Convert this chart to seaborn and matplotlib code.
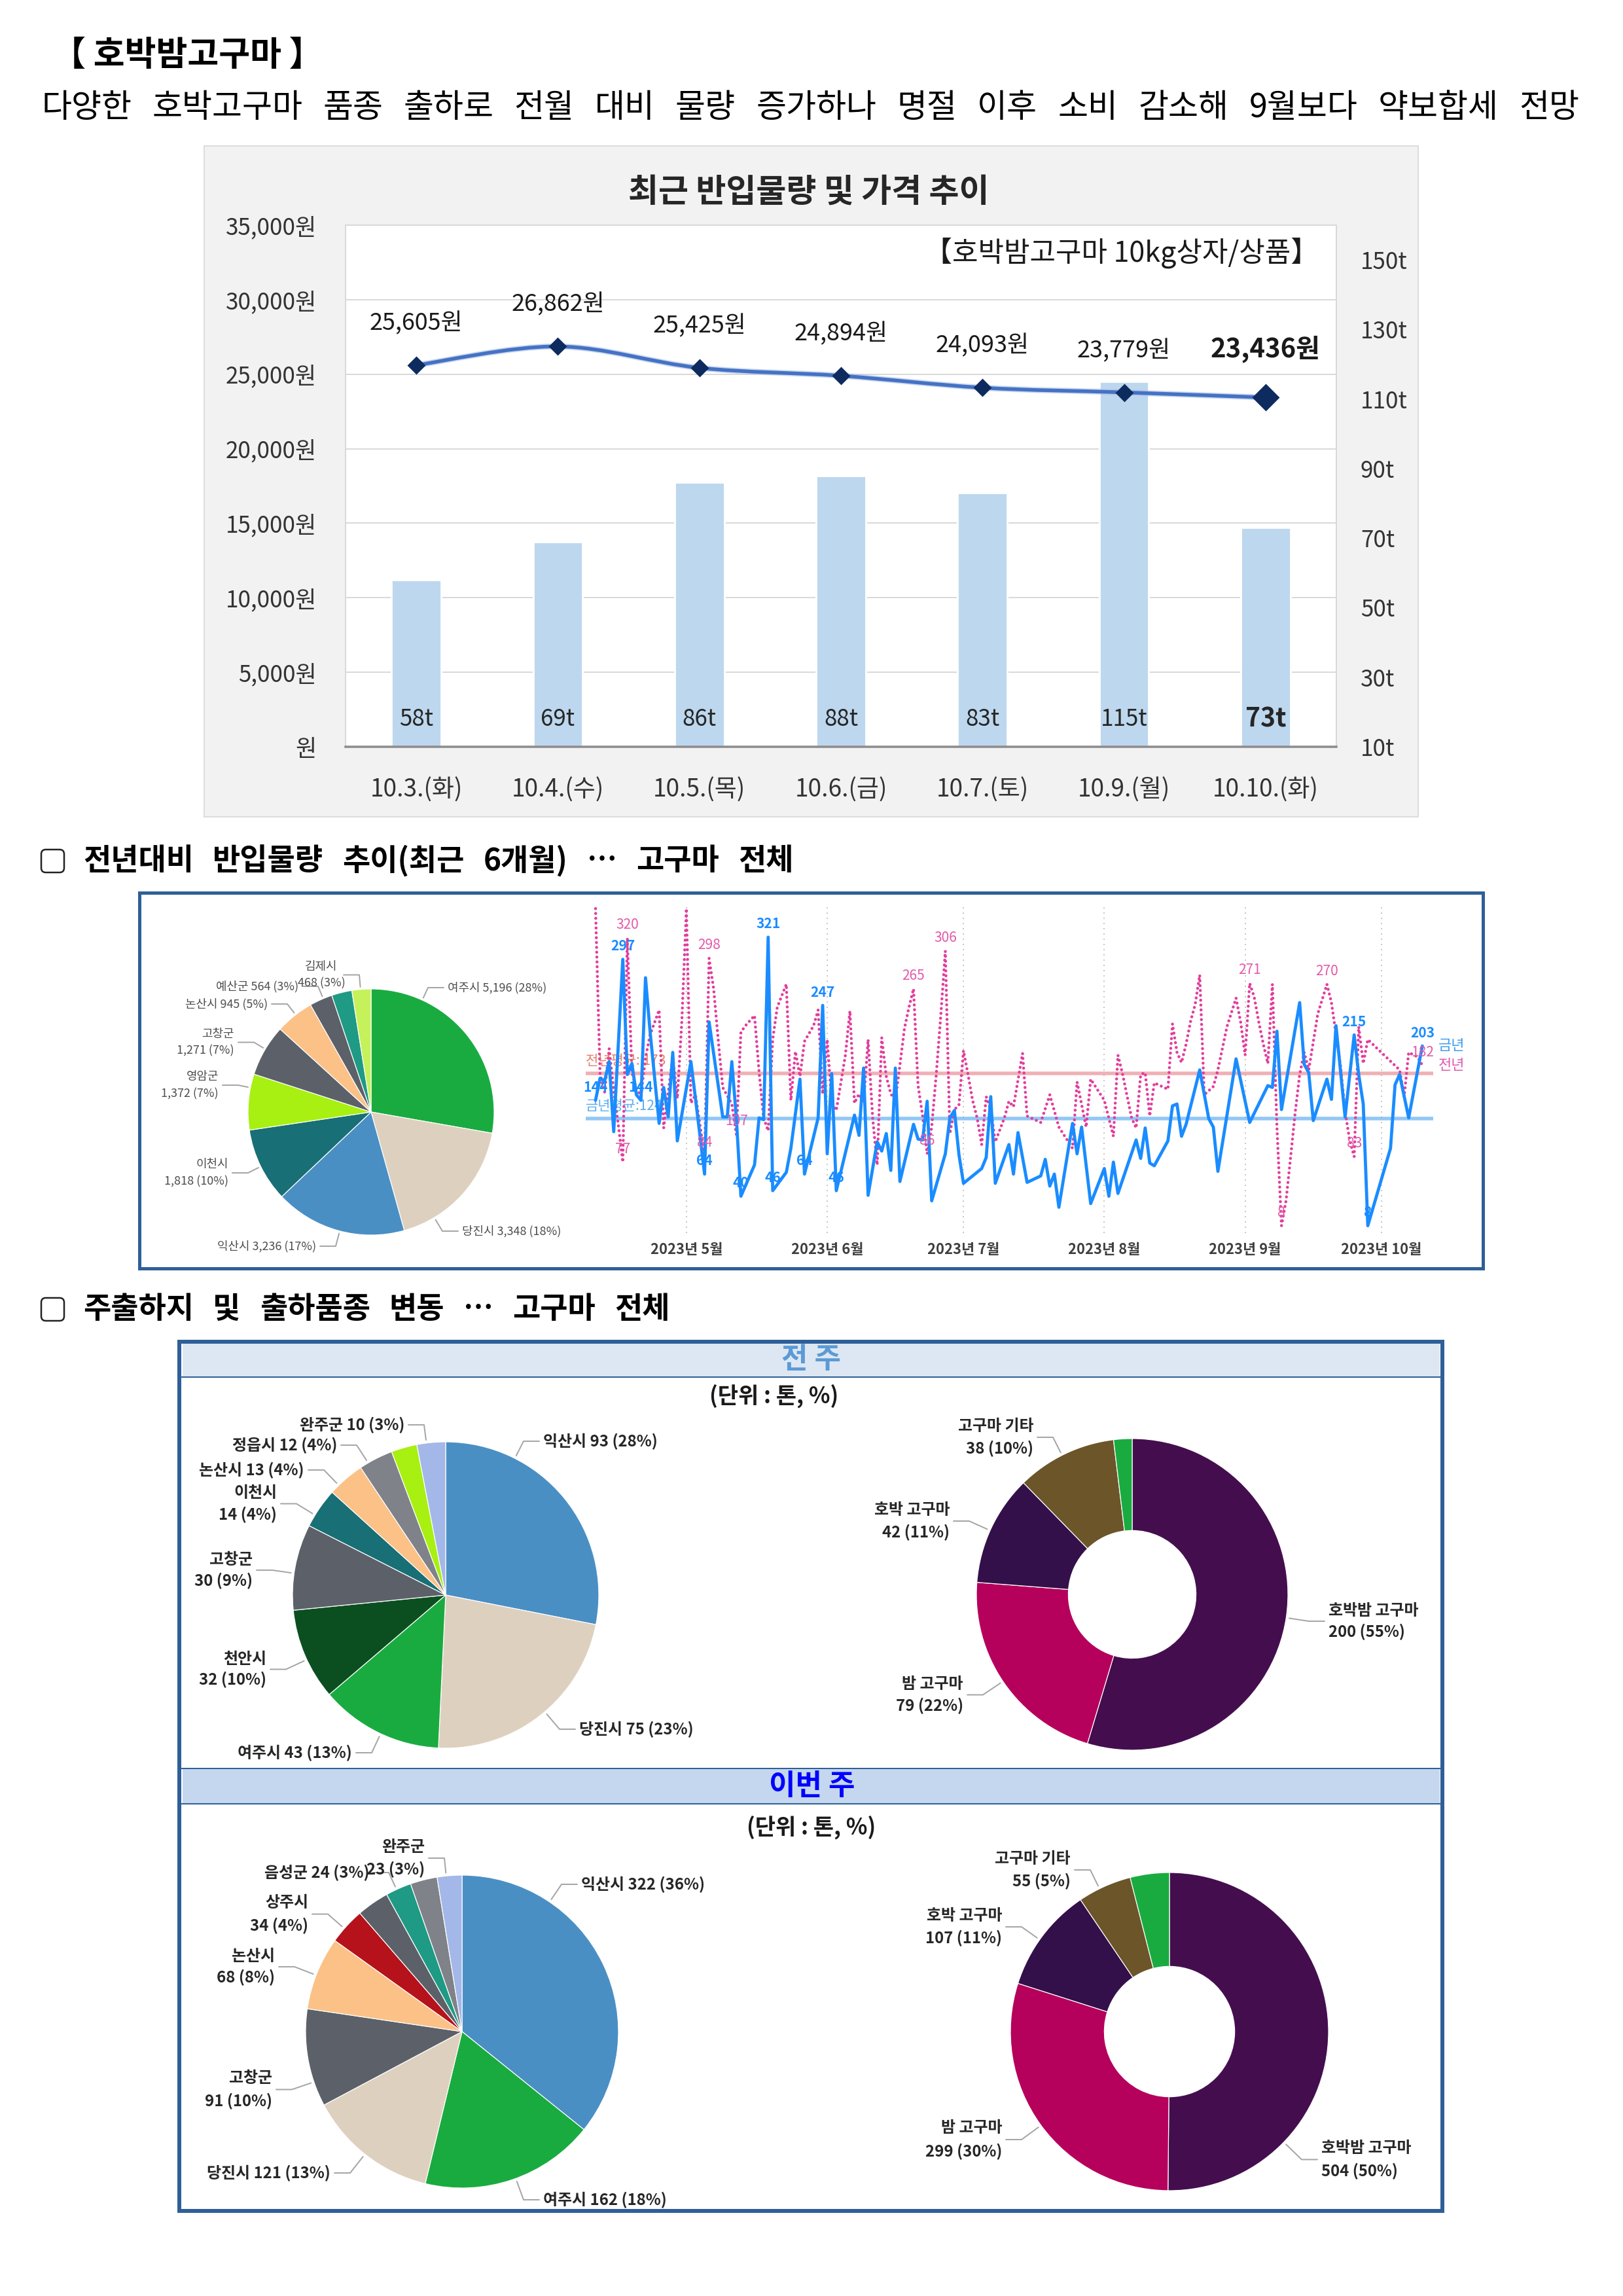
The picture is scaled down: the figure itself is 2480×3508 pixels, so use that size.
import numpy as np
import pandas as pd
import matplotlib
matplotlib.use('Agg')
import matplotlib.pyplot as plt
import matplotlib.dates as mdates
from matplotlib.path import Path
from matplotlib.patches import PathPatch, Rectangle, FancyBboxPatch
from matplotlib.lines import Line2D
from matplotlib.transforms import IdentityTransform
from matplotlib.ticker import FuncFormatter
import seaborn as sns

# ======================= DATA =======================
page_title = '【 호박밤고구마 】'
page_subtitle = '다양한 호박고구마 품종 출하로 전월 대비 물량 증가하나 명절 이후 소비 감소해 9월보다 약보합세 전망'

# chart 1 : recent arrivals & price
c1_title = '최근 반입물량 및 가격 추이'
c1_note = '【호박밤고구마 10kg상자/상품】'
c1_dates = ['10.3.(화)', '10.4.(수)', '10.5.(목)', '10.6.(금)', '10.7.(토)', '10.9.(월)', '10.10.(화)']
c1_volume_t = [58, 69, 86, 88, 83, 115, 73]
c1_price_won = [25605, 26862, 25425, 24894, 24093, 23779, 23436]
c1_price_ticks = [0, 5000, 10000, 15000, 20000, 25000, 30000, 35000]
c1_volume_ticks = [10, 30, 50, 70, 90, 110, 130, 150]

# section 2
s2_header = '전년대비 반입물량 추이(최근 6개월) … 고구마 전체'
p6_names = ['여주시', '당진시', '익산시', '이천시', '영암군', '고창군', '논산시', '예산군', '', '김제시']
p6_values = [5196, 3348, 3236, 1818, 1372, 1271, 945, 564, 500, 468]
p6_pct = [28, 18, 17, 10, 7, 7, 5, 3, 3, 3]

ts_start = '2023-04-11'
this_day = [0, 1, 2, 3, 4, 6, 7, 8, 9, 10, 11, 12, 14, 15, 16, 17, 18, 21, 22, 24, 25, 28, 29, 30, 31, 32,
            35, 36, 37, 38, 39, 42, 43, 45, 46, 49, 50, 51, 52, 53, 57, 58, 59, 60, 62, 63, 64, 65,
            66, 67, 70, 71, 72, 73, 74, 77, 78, 79, 80, 81, 85, 86, 87, 88, 91, 92, 93, 95, 98, 99, 100,
            101, 102, 105, 106, 107, 109, 112, 113, 114, 115, 119, 120, 121, 122, 123, 126, 127, 128, 129,
            130, 133, 135, 136, 137, 141, 144, 148, 149, 150, 151, 155, 156, 157, 158, 161, 162, 163, 165,
            167, 168, 169, 170, 175, 176, 177, 179, 182]
this_t = [144, 168, 165, 186, 110, 297, 172, 184, 150, 144, 277, 219, 119, 158, 126, 196, 100, 186, 146, 64, 229,
          126, 126, 186, 125, 40, 74, 125, 123, 321, 46, 66, 92, 167, 64, 125, 247, 86, 173, 46, 128, 106, 179,
          41, 99, 89, 108, 68,
          179, 56, 118, 102, 101, 143, 35, 86, 125, 133, 85, 54, 70, 82, 148, 54, 96, 64, 109, 55, 62, 80, 51,
          64, 28, 119, 86, 115, 32, 70, 40, 77, 43, 101, 81, 114, 76, 73, 100, 138, 140, 105,
          118, 177, 124, 115, 67, 189, 120, 160, 158, 219, 134, 250, 183, 174, 122, 167, 145, 225, 126,
          215, 172, 140, 8, 92, 161, 172, 125, 203]
last_day = [0, 1, 2, 3, 4, 5, 6, 7, 8, 9, 10, 11, 12, 14, 15, 17, 18, 19, 20, 21, 22, 24, 25, 26, 27, 28, 30,
            31, 32, 33, 35, 36, 37, 38, 39, 40, 42, 43, 44, 45, 46, 48, 49, 50, 51, 52, 53, 55, 56, 57, 58,
            59, 60, 61, 62, 63, 64, 65, 66, 67, 68, 69, 70, 71, 72, 73, 74, 75, 76, 77, 78, 79, 80, 81, 82,
            83, 84, 85, 86, 87, 88, 90, 91, 92, 94, 95, 98, 100, 102, 105, 106, 108, 109, 112, 114, 115, 116,
            118, 119, 120, 121, 122, 123, 126, 127, 128, 129, 130, 131, 132, 133, 134, 136, 137, 139, 141,
            142, 143, 144, 145, 146, 147, 148, 149, 150, 151, 152, 153, 154, 155, 156, 157, 159, 161, 162,
            164, 165, 166, 167, 168, 169, 170, 177, 178, 179, 181, 182]
last_t = [352, 172, 153, 200, 155, 118, 77, 320, 175, 155, 150, 190, 215, 242, 114, 191, 146, 230, 352, 141, 150,
          84, 298, 265, 210, 158, 140, 107, 218, 225, 236, 175, 125, 111, 210, 245, 270, 144, 197, 170, 208,
          225, 242, 151, 210, 141, 133, 193, 241, 141, 151, 141, 210, 125, 74, 212, 170, 151, 144, 182, 222,
          245, 265, 160, 127, 86, 115, 172, 236, 306, 108, 134, 139, 198, 172, 144, 125, 96, 148, 134, 99,
          125, 143, 137, 195, 127, 120, 150, 115, 92, 164, 115, 167, 144, 105, 193, 173, 125, 114, 172, 174,
          127, 163, 156, 227, 196, 185, 205, 230, 248, 280, 150, 159, 177, 224, 255, 229, 193, 271, 256, 229,
          205, 184, 270, 115, 8, 35, 82, 130, 172, 196, 177, 238, 270, 250, 181, 132, 101, 83, 224, 184, 210,
          177, 148, 196, 191, 182]
this_label_days = [0, 6, 10, 24, 32, 38, 39, 46, 50, 53, 167, 170, 182]
last_label_days = [6, 7, 24, 25, 31, 70, 73, 77, 144, 151, 161, 167, 182]
avg_this, avg_last = 124, 173
avg_this_label = '금년평균:124'
avg_last_label = '전년평균: 173'
legend_this, legend_last = '금년', '전년'

# section 3
s3_header = '주출하지 및 출하품종 변동 … 고구마 전체'
band_prev, band_cur = '전 주', '이번 주'
unit_text = '(단위 : 톤, %)'
prev_region_names = ['익산시', '당진시', '여주시', '천안시', '고창군', '이천시', '논산시', '정읍시', '', '완주군']
prev_region_values = [93, 75, 43, 32, 30, 14, 13, 12, 9, 10]
prev_region_pct = [28, 23, 13, 10, 9, 4, 4, 4, 3, 3]
prev_kind_names = ['호박밤 고구마', '밤 고구마', '호박 고구마', '고구마 기타', '']
prev_kind_values = [200, 79, 42, 38, 7]
prev_kind_pct = [55, 22, 11, 10, 2]
cur_region_names = ['익산시', '여주시', '당진시', '고창군', '논산시', '상주시', '', '음성군', '', '완주군']
cur_region_values = [322, 162, 121, 91, 68, 34, 30, 24, 25, 23]
cur_region_pct = [36, 18, 13, 10, 8, 4, 3, 3, 3, 3]
cur_kind_names = ['호박밤 고구마', '밤 고구마', '호박 고구마', '고구마 기타', '']
cur_kind_values = [504, 299, 107, 55, 40]
cur_kind_pct = [50, 30, 11, 5, 4]

# ======================= STYLE / HELPERS =======================
sns.set_theme(style='white')
plt.rcParams['font.family'] = ['Noto Sans CJK KR', 'DejaVu Sans']
plt.rcParams['axes.unicode_minus'] = False

W, H, DPI = 2480, 3508, 200
fig = plt.figure(figsize=(W / DPI, H / DPI), dpi=DPI, facecolor='white')
renderer = fig.canvas.get_renderer()


def pt(px):
    return px * 72.0 / DPI


def add_axes_px(x, y, w, h):
    return fig.add_axes([x / W, 1 - (y + h) / H, w / W, h / H])


def ftext(x, y, s, size, **kw):
    kw.setdefault('va', 'center')
    return fig.text(x / W, 1 - y / H, s, fontsize=pt(size), **kw)


def frect(x0, y0, x1, y1, **kw):
    r = Rectangle((x0 / W, 1 - y1 / H), (x1 - x0) / W, (y1 - y0) / H, transform=fig.transFigure, **kw)
    fig.add_artist(r)
    return r


def fline(xs, ys, **kw):
    ln = Line2D([x / W for x in xs], [1 - y / H for y in ys], transform=fig.transFigure, **kw)
    fig.add_artist(ln)
    return ln


def justified(x0, x1, y, s, size, **kw):
    words = s.split(' ')
    arts = [ftext(x0, y, w, size, ha='left', **kw) for w in words]
    widths = [a.get_window_extent(renderer=renderer).width for a in arts]
    gap = (x1 - x0 - sum(widths)) / max(len(words) - 1, 1)
    x = x0
    for a, w in zip(arts, widths):
        a.set_x(x / W)
        x += w + gap


def checkbox(x, ytop, size=35):
    b = FancyBboxPatch((x, H - ytop - size), size, size, boxstyle='round,pad=0,rounding_size=7',
                       transform=IdentityTransform(), fc='white', ec='#222222', lw=pt(2.5))
    fig.add_artist(b)


def smooth_path(xs, ys, t=1 / 6):
    verts = [(xs[0], ys[0])]
    codes = [Path.MOVETO]
    n = len(xs)
    for i in range(n - 1):
        x0, y0 = (xs[i - 1], ys[i - 1]) if i > 0 else (xs[i], ys[i])
        x1, y1 = xs[i], ys[i]
        x2, y2 = xs[i + 1], ys[i + 1]
        x3, y3 = (xs[i + 2], ys[i + 2]) if i + 2 < n else (x2, y2)
        verts += [(x1 + (x2 - x0) * t, y1 + (y2 - y0) * t),
                  (x2 - (x3 - x1) * t, y2 - (y3 - y1) * t),
                  (x2, y2)]
        codes += [Path.CURVE4] * 3
    return Path(verts, codes)


def draw_pie(cx, cy, R, values, colors, hole=None):
    ax = add_axes_px(cx - R, cy - R, 2 * R, 2 * R)
    wp = dict(edgecolor='white', linewidth=pt(1.2))
    if hole:
        wp['width'] = 1 - hole
    wedges, _ = ax.pie(values, colors=colors, startangle=90, counterclock=False, radius=1, wedgeprops=wp)
    for w in wedges:
        w.set_clip_on(False)
    ax.set_xlim(-1, 1)
    ax.set_ylim(-1, 1)
    ax.set_aspect('equal')
    ax.axis('off')
    return ax


def pie_labels(cx, cy, R, values, names, pcts, specs, size, color, weight):
    T = float(sum(values))
    cum = np.concatenate([[0], np.cumsum(values)])
    for spec in specs:
        i, nl, x, ha, ys = spec[:5]
        lead_x = spec[5] if len(spec) > 5 else None
        val = f'{values[i]:,} ({pcts[i]}%)'
        lines = [f'{names[i]} {val}'] if nl == 1 else [names[i], val]
        for line, y in zip(lines, ys):
            ftext(cx + x, cy + y, line, size, ha=ha, color=color, weight=weight)
        ym = float(np.mean(ys))
        if lead_x is None:
            lead_x = x + 6 if ha == 'right' else x - 6
        ex = lead_x + 24 if lead_x < 0 else lead_x - 24
        s = 90 - 360 * cum[i] / T
        e = 90 - 360 * cum[i + 1] / T
        phi = np.degrees(np.arctan2(-ym, ex))
        phi = e + ((phi - e) % 360)
        m = min(4, (s - e) / 4)
        if phi > s - m:
            if (phi - s) < (e + 360 - phi):
                phi = s - m
            else:
                phi = e + m
        phi = max(phi, e + m)
        rx = cx + 1.02 * R * np.cos(np.radians(phi))
        ry = cy - 1.02 * R * np.sin(np.radians(phi))
        fline([cx + lead_x, cx + ex, rx], [cy + ym, cy + ym, ry], color='#a6a6a6', lw=pt(2))


# ======================= PAGE HEADER =======================
ftext(79, 84, page_title, 52, weight='bold', color='black')
justified(63, 2413, 165, page_subtitle, 50, color='black')

# ======================= CHART 1 =======================
frect(312, 223, 2167, 1248, facecolor='#f2f2f2', edgecolor='#dcdcdc', lw=pt(2), zorder=0)
ax_b = add_axes_px(528, 344, 1514, 797)
ax_b.set_facecolor('white')
sns.barplot(x=c1_dates, y=c1_volume_t, ax=ax_b, color='#bdd7ee', saturation=1, width=0.35, zorder=2)
ax_p = ax_b.twinx()
ax_b.set_xlim(-0.5, 6.5)
ax_b.set_ylim(10, 160)
ax_p.set_ylim(0, 35000)
ax_b.yaxis.tick_right()
ax_p.yaxis.tick_left()
ax_b.set_yticks(c1_volume_ticks)
ax_b.set_yticklabels([f'{v}t' for v in c1_volume_ticks])
ax_p.set_yticks(c1_price_ticks)
ax_p.set_yticklabels(['원' if v == 0 else f'{v:,}원' for v in c1_price_ticks])
ax_b.set_xticks(range(len(c1_dates)))
ax_b.set_xticklabels(c1_dates)
ax_b.tick_params(axis='y', length=0, pad=pt(37), labelsize=pt(35), labelcolor='#333333')
ax_b.tick_params(axis='x', length=0, pad=pt(47), labelsize=pt(37), labelcolor='#333333')
ax_p.tick_params(axis='y', length=0, pad=pt(44), labelsize=pt(35), labelcolor='#333333')
ax_b.set_xlabel('')
ax_b.set_ylabel('')
for sname in ['top', 'left', 'right']:
    ax_b.spines[sname].set_color('#d9d9d9')
    ax_b.spines[sname].set_linewidth(pt(2))
ax_b.spines['bottom'].set_color('#8c8c8c')
ax_b.spines['bottom'].set_linewidth(pt(3.5))
for sp in ax_p.spines.values():
    sp.set_visible(False)
lo, hi = ax_p.get_ylim()
for p in c1_price_ticks[1:]:
    f = (p - lo) / (hi - lo)
    ax_b.plot([0, 1], [f, f], transform=ax_b.transAxes, color='#d9d9d9', lw=pt(2), zorder=1)

xcat = np.arange(len(c1_dates))
ax_p.add_patch(PathPatch(smooth_path(xcat, c1_price_won), fill=False, edgecolor='#a9bde6',
                         lw=pt(9), capstyle='round', alpha=0.6, zorder=3))
ax_p.add_patch(PathPatch(smooth_path(xcat, c1_price_won), fill=False, edgecolor='#4472c4',
                         lw=pt(5.5), capstyle='round', zorder=3))
ax_p.plot(xcat[:-1], c1_price_won[:-1], 'D', color='#0d2b5e', ms=pt(17), zorder=4)
ax_p.plot(xcat[-1:], c1_price_won[-1:], 'D', color='#0d2b5e', ms=pt(27), zorder=4)
for i, p in enumerate(c1_price_won):
    last = i == len(c1_price_won) - 1
    ax_p.annotate(f'{p:,}원', (xcat[i], p), xytext=(0, pt(74 if last else 64)), textcoords='offset points',
                  ha='center', va='center', fontsize=pt(40 if last else 36),
                  weight='bold' if last else 'normal', color='#1a1a1a')
for i, v in enumerate(c1_volume_t):
    last = i == len(c1_volume_t) - 1
    ax_b.text(xcat[i], 0.053, f'{v}t', transform=ax_b.get_xaxis_transform(), ha='center', va='center',
              fontsize=pt(39 if last else 35), weight='bold' if last else 'normal', color='#262626', zorder=5)
ftext(1236, 294, c1_title, 50, ha='center', weight='bold', color='#262626')
ftext(2015, 386, c1_note, 43, ha='right', color='#1a1a1a')

# ======================= SECTION 2 =======================
checkbox(63, 1298)
justified(127, 1213, 1315, s2_header, 46, weight='bold', color='black')
frect(213, 1364, 2266, 1938, facecolor='none', edgecolor='#2f5f98', lw=pt(5), zorder=5)

p6_colors = ['#1aab40', '#ded0bf', '#4a8fc4', '#186f75', '#a8ef12', '#5c6169', '#fbc187', '#5c6169',
             '#1f9a84', '#c5f15a']
P1 = (567, 1699, 188)
draw_pie(*P1, p6_values, p6_colors)
pie_labels(*P1, p6_values, p6_names, p6_pct,
           [(0, 1, 117, 'left', [-190]),
            (1, 1, 139, 'left', [182]),
            (2, 1, -84, 'right', [205]),
            (3, 2, -218, 'right', [80, 106]),
            (4, 2, -233, 'right', [-54, -28]),
            (5, 2, -209, 'right', [-119, -94]),
            (6, 1, -158, 'right', [-165]),
            (7, 1, -111, 'right', [-192]),
            (9, 2, -76, 'center', [-222, -197], -42)],
           18, '#4d4d4d', 'normal')

# line chart
blue, pink = '#1a8cff', '#e33d9c'
ax_l = add_axes_px(895, 1384, 1295, 500)
start = pd.Timestamp(ts_start)
xb = start + pd.to_timedelta(this_day, unit='D')
xp = start + pd.to_timedelta(last_day, unit='D')
ax_l.axhline(avg_last, color='#e57c85', alpha=0.6, lw=pt(5.5), zorder=1)
ax_l.axhline(avg_this, color='#4aa3f0', alpha=0.6, lw=pt(5.5), zorder=1)
sns.lineplot(x=xp, y=last_t, ax=ax_l, color=pink, lw=pt(4.6), linestyle=(0, (0.01, 1.6)),
             dash_capstyle='round', zorder=3)
sns.lineplot(x=xb, y=this_t, ax=ax_l, color=blue, lw=pt(4.8), zorder=4)
ax_l.set_xlim(start - pd.Timedelta(days=2.16), start + pd.Timedelta(days=184.4))
ax_l.set_ylim(0, 355)
ax_l.set_xlabel('')
ax_l.set_ylabel('')
ax_l.set_yticks([])
ax_l.set_facecolor('none')
for sp in ax_l.spines.values():
    sp.set_visible(False)
ax_l.xaxis.set_major_locator(mdates.MonthLocator())
ax_l.xaxis.set_major_formatter(FuncFormatter(
    lambda x, pos: f'{mdates.num2date(x).year}년 {mdates.num2date(x).month}월'))
ax_l.tick_params(axis='x', length=0, pad=pt(14), labelsize=pt(22), labelcolor='#404040')
ax_l.grid(axis='x', color='#c8c8c8', linestyle=(0, (1, 3)), lw=pt(2))
for lab in ax_l.get_xticklabels():
    lab.set_fontweight('bold')
for d, v in zip(this_day, this_t):
    if d in this_label_days:
        ax_l.annotate(str(v), (mdates.date2num(start + pd.Timedelta(days=d)), v), xytext=(0, pt(20)),
                      textcoords='offset points', ha='center', va='center', fontsize=pt(21),
                      color=blue, weight='bold', zorder=6)
for d, v in zip(last_day, last_t):
    if d in last_label_days:
        ax_l.annotate(str(v), (mdates.date2num(start + pd.Timedelta(days=d)), v), xytext=(0, pt(20)),
                      textcoords='offset points', ha='center', va='center', fontsize=pt(21),
                      color='#e45aa8', zorder=6)
ax_l.annotate(avg_last_label, (0, avg_last), xycoords=('axes fraction', 'data'), xytext=(0, pt(19)),
              textcoords='offset points', ha='left', va='center', fontsize=pt(21), color='#e0604a', alpha=0.8)
ax_l.annotate(avg_this_label, (0, avg_this), xycoords=('axes fraction', 'data'), xytext=(0, pt(19)),
              textcoords='offset points', ha='left', va='center', fontsize=pt(21), color='#3399ee', alpha=0.8)
ax_l.annotate(legend_this, (1, this_t[-1]), xycoords=('axes fraction', 'data'), xytext=(pt(8), 0),
              textcoords='offset points', ha='left', va='center', fontsize=pt(22), color='#3d9cf0')
ax_l.annotate(legend_last, (1, last_t[-1]), xycoords=('axes fraction', 'data'), xytext=(pt(8), 0),
              textcoords='offset points', ha='left', va='center', fontsize=pt(22), color='#e05ab0')

# ======================= SECTION 3 =======================
checkbox(63, 1983)
justified(127, 1024, 2000, s3_header, 46, weight='bold', color='black')
frect(279, 2053, 2200, 2104, facecolor='#dde7f3', edgecolor='none', zorder=0)
frect(279, 2702, 2200, 2756, facecolor='#c4d7ee', edgecolor='none', zorder=0)
fline([274, 2204], [2104, 2104], color='#2f5f98', lw=pt(2))
fline([274, 2204], [2702, 2702], color='#2f5f98', lw=pt(2))
fline([274, 2204], [2756, 2756], color='#2f5f98', lw=pt(2))
frect(274, 2050, 2204, 3378, facecolor='none', edgecolor='#2f5f98', lw=pt(6), zorder=5)
ftext(1240, 2077, band_prev, 44, ha='center', weight='bold', color='#5b9bd5')
ftext(1241, 2729, band_cur, 44, ha='center', weight='bold', color='#0000ff')
ftext(1183, 2133, unit_text, 34, ha='center', weight='bold', color='#1a1a1a')
ftext(1240, 2792, unit_text, 34, ha='center', weight='bold', color='#1a1a1a')

region_colors_prev = ['#4a8fc4', '#ded0bf', '#1aab40', '#0b4f20', '#5c6169', '#186f75', '#fbc187',
                      '#7f8389', '#a8ef12', '#a3b7e8']
region_colors_cur = ['#4a8fc4', '#1aab40', '#ded0bf', '#5c6169', '#fbc187', '#b5121b', '#5c6169',
                     '#1f9a84', '#7f8389', '#a3b7e8']
kind_colors = ['#440e4e', '#b5005c', '#33104a', '#6b5529', '#1aab40']

P2 = (681, 2437, 234)
draw_pie(*P2, prev_region_values, region_colors_prev)
pie_labels(*P2, prev_region_values, prev_region_names, prev_region_pct,
           [(0, 1, 149, 'left', [-235]),
            (1, 1, 204, 'left', [205]),
            (2, 1, -143, 'right', [241]),
            (3, 2, -274, 'right', [98, 129]),
            (4, 2, -295, 'right', [-54, -22]),
            (5, 2, -258, 'right', [-156, -123]),
            (6, 1, -216, 'right', [-191]),
            (7, 1, -166, 'right', [-229]),
            (9, 1, -63, 'right', [-260])],
           24, '#262626', 'bold')

D2 = (1730, 2436, 238)
draw_pie(*D2, prev_kind_values, kind_colors, hole=0.41)
pie_labels(*D2, prev_kind_values, prev_kind_names, prev_kind_pct,
           [(3, 2, -151, 'right', [-257, -223]),
            (2, 2, -279, 'right', [-129, -95]),
            (1, 2, -258, 'right', [137, 170]),
            (0, 2, 300, 'left', [25, 57])],
           24, '#262626', 'bold')

P3 = (706, 3104, 239)
draw_pie(*P3, cur_region_values, region_colors_cur)
pie_labels(*P3, cur_region_values, cur_region_names, cur_region_pct,
           [(0, 1, 182, 'left', [-225]),
            (1, 1, 124, 'left', [257]),
            (2, 1, -201, 'right', [216]),
            (3, 2, -290, 'right', [71, 106]),
            (4, 2, -286, 'right', [-115, -83]),
            (5, 2, -235, 'right', [-197, -162]),
            (7, 1, -142, 'right', [-243]),
            (9, 2, -57, 'right', [-282, -248])],
           24, '#262626', 'bold')

D3 = (1787, 3104, 243)
draw_pie(*D3, cur_kind_values, kind_colors, hole=0.41)
pie_labels(*D3, cur_kind_values, cur_kind_names, cur_kind_pct,
           [(3, 2, -151, 'right', [-264, -230]),
            (2, 2, -256, 'right', [-177, -143]),
            (1, 2, -256, 'right', [147, 183]),
            (0, 2, 232, 'left', [178, 213])],
           24, '#262626', 'bold')

fig.savefig('out.png', dpi=DPI, facecolor='white')
